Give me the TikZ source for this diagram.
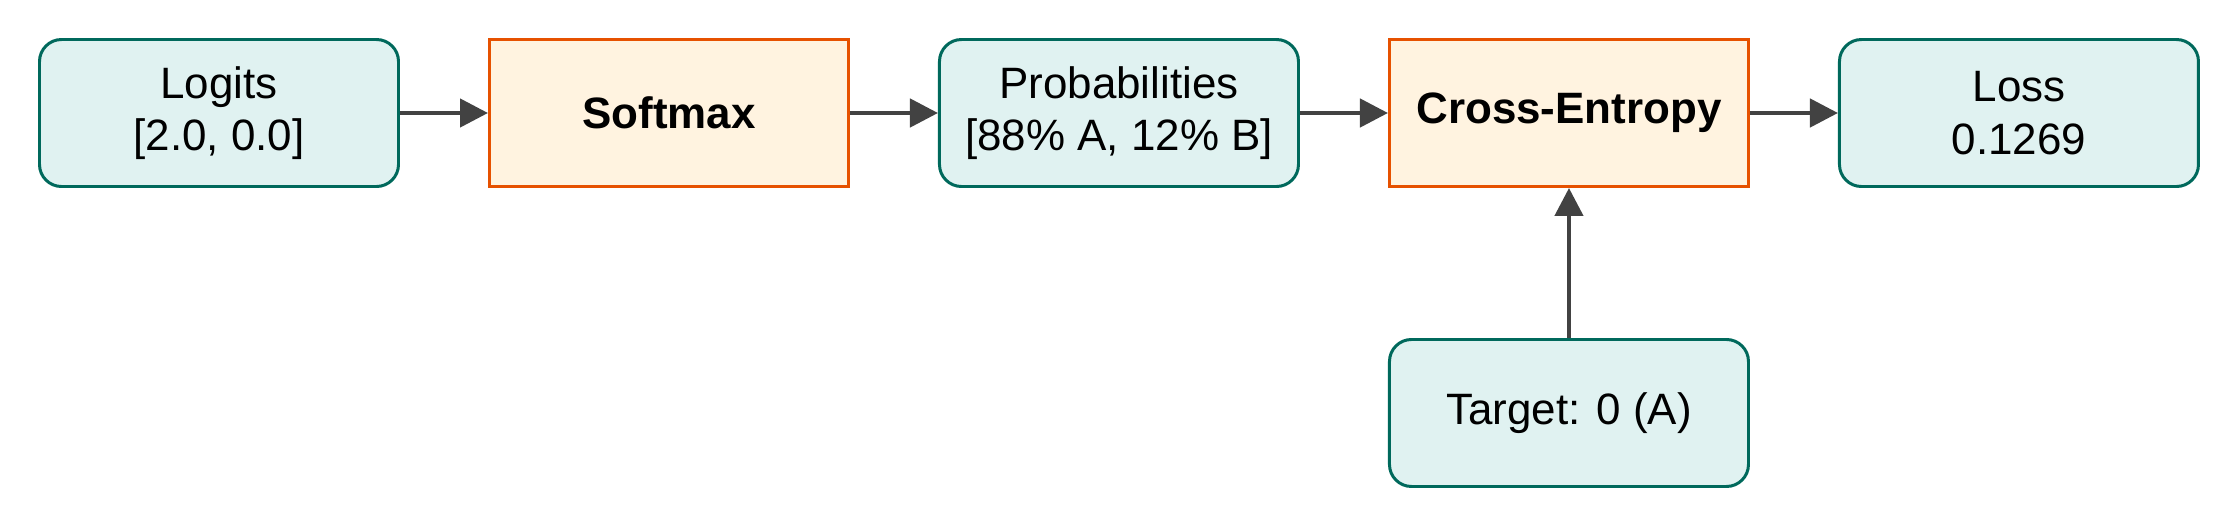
\documentclass[tikz,border=0pt]{standalone}
\usepackage{fontspec}
\setmainfont{Liberation Sans}
\usetikzlibrary{positioning,arrows.meta}

\definecolor{tealline}{HTML}{00695C}
\definecolor{tealfill}{HTML}{E0F2F1}
\definecolor{orangeline}{HTML}{E65100}
\definecolor{orangefill}{HTML}{FFF3E0}
\definecolor{arrowgray}{HTML}{424242}

\begin{document}
\begin{tikzpicture}[data/.style={draw=tealline,fill=tealfill,line width=0.85pt,rounded corners=0.22cm,minimum width=3.59cm,minimum height=1.47cm,align=center,font=\fontsize{12.5}{15}\selectfont},
    func/.style={draw=orangeline,fill=orangefill,line width=0.85pt,minimum width=3.59cm,minimum height=1.47cm,align=center,font=\fontsize{12.5}{15}\selectfont\bfseries},
    flow/.style={draw=arrowgray,line width=1.3pt,-{Triangle[length=0.28cm,width=0.28cm]}},
    node distance=0.88cm]

    \useasboundingbox (-2.19,-3.92) rectangle (19.96,1.13);

    \node (logits) at (0,0) [data] {Logits\\{[2.0, 0.0]}};
    \node (softmax) [func,right=of logits] {Softmax};
    \node (probs) [data,right=of softmax] {Probabilities\\{[88\% A, 12\% B]}};
    \node (ce) [func,right=of probs] {Cross-Entropy};
    \node (loss) [data,right=of ce] {Loss\\0.1269};
    \node (target) [data,below=1.5cm of ce] {Target: 0 (A)};

    \draw[flow] (logits) -- (softmax);
    \draw[flow] (softmax) -- (probs);
    \draw[flow] (probs) -- (ce);
    \draw[flow] (ce) -- (loss);
    \draw[flow] (target) -- (ce);
  \end{tikzpicture}
\end{document}
